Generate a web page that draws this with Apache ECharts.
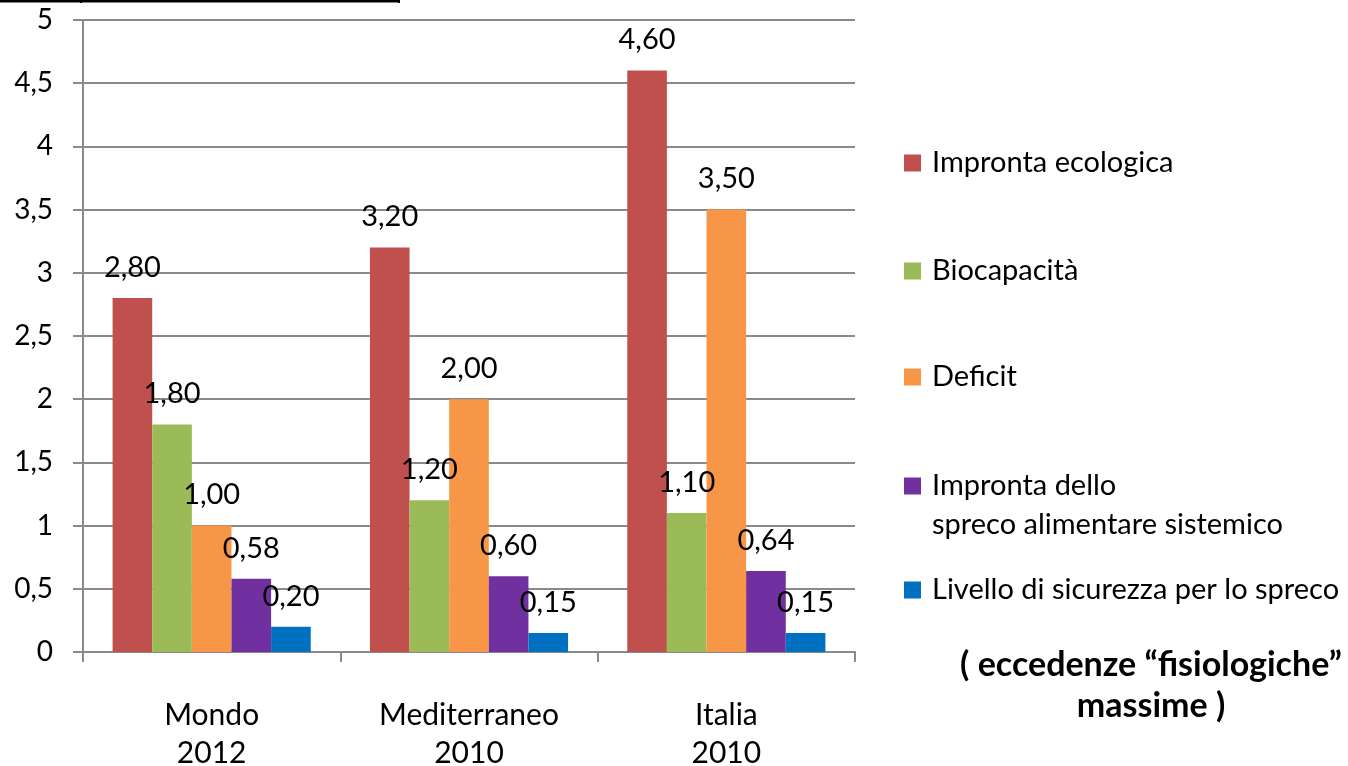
<!DOCTYPE html>
<html>
<head>
<meta charset="utf-8">
<script src="https://cdn.jsdelivr.net/npm/echarts@6/dist/echarts.min.js"></script>
<style>
    html, body { margin: 0; padding: 0; background: #fff; }
    #chart { width: 1348px; height: 766px; }
</style>
</head>
<body>
<div id="chart"></div>
<script>
// dati
const categories = ['Mondo\n2012', 'Mediterraneo\n2010', 'Italia\n2010']
const seriesNames = [
    'Impronta ecologica',
    'Biocapacità',
    'Deficit',
    'Impronta dello\nspreco alimentare sistemico',
    'Livello di sicurezza per lo spreco'
]
const improntaEcologica = [2.80, 3.20, 4.60]
const biocapacita = [1.80, 1.20, 1.10]
const deficit = [1.00, 2.00, 3.50]
const improntaSpreco = [0.58, 0.60, 0.64]
const livelloSicurezza = [0.20, 0.15, 0.15]
const yTicks = { min: 0, max: 5, interval: 0.5 }

const colors = ['#C0504D', '#9BBB59', '#F79646', '#7030A0', '#0070C0']
const values = [improntaEcologica, biocapacita, deficit, improntaSpreco, livelloSicurezza]
const FONT = 'Lato, "Open Sans", sans-serif'
const GRAY = '#8a8a8a'

const chart = echarts.init(document.getElementById('chart'))

// legenda: un componente per voce, per controllare la posizione verticale
const legendCenters = [163, 271, 377, 486, 590]
const LH = 39
const legends = seriesNames.map((name, i) => {
    const multi = name.indexOf('\n') >= 0
    return {
        data: [name],
        left: 904,
        top: multi ? legendCenters[i] - 1.5 * LH : legendCenters[i] - LH / 2,
        padding: 0,
        orient: 'vertical',
        itemWidth: 17,
        itemHeight: 17,
        icon: 'rect',
        selectedMode: false,
        // riga vuota sopra: la prima riga del testo resta allineata al quadratino
        formatter: n => (n.indexOf('\n') >= 0 ? '\n' : '') +
            n.split('\n').map(s => '{t|' + s + '}').join('\n'),
        textStyle: {
            fontFamily: FONT,
            fontSize: 29,
            color: '#000',
            lineHeight: LH,
            rich: {
                t: { fontFamily: FONT, fontSize: 29, color: '#000', lineHeight: LH, padding: [0, 0, 0, 6] }
            }
        }
    }
})

chart.setOption({
    animation: false,
    backgroundColor: '#fff',
    title: {
        text: '( eccedenze “fisiologiche”\nmassime )',
        left: 1146,
        top: 640,
        textAlign: 'center',
        textStyle: {
            fontFamily: FONT,
            fontSize: 34,
            fontWeight: 'bold',
            color: '#000',
            lineHeight: 41,
            align: 'center'
        }
    },
    legend: legends,
    grid: { left: 83, right: 493, top: 20, bottom: 114, outerBoundsMode: 'none' },
    xAxis: {
        type: 'category',
        data: categories,
        axisLine: { lineStyle: { color: GRAY, width: 2 } },
        axisTick: { show: true, length: 10, lineStyle: { color: GRAY, width: 2 } },
        axisLabel: {
            fontFamily: FONT,
            fontSize: 30,
            color: '#000',
            lineHeight: 38,
            margin: 44
        }
    },
    yAxis: {
        type: 'value',
        min: yTicks.min,
        max: yTicks.max,
        interval: yTicks.interval,
        axisLine: { show: true, lineStyle: { color: GRAY, width: 2 } },
        axisTick: { show: true, length: 10, lineStyle: { color: GRAY, width: 2 } },
        splitLine: { lineStyle: { color: GRAY, width: 2 } },
        axisLabel: {
            fontFamily: FONT,
            fontSize: 28,
            color: '#000',
            margin: 30,
            formatter: v => String(v).replace('.', ',')
        }
    },
    series: seriesNames.map((name, i) => ({
        name: name,
        type: 'bar',
        data: values[i],
        barGap: '0%',
        barCategoryGap: '23%',
        itemStyle: { color: colors[i] },
        label: {
            show: true,
            position: 'top',
            distance: 16,
            fontFamily: FONT,
            fontSize: 29,
            color: '#000',
            formatter: p => p.value.toFixed(2).replace('.', ',')
        }
    })),
    // frammento di tabella tagliato in alto a sinistra
    graphic: [
        { type: 'line', shape: { x1: 0, y1: 1, x2: 400, y2: 1 }, style: { stroke: '#000', lineWidth: 3 } },
        { type: 'line', shape: { x1: 81, y1: 0, x2: 81, y2: 3 }, style: { stroke: '#000', lineWidth: 2 } },
        { type: 'line', shape: { x1: 399, y1: 0, x2: 399, y2: 3 }, style: { stroke: '#000', lineWidth: 2 } }
    ]
})
</script>
</body>
</html>
